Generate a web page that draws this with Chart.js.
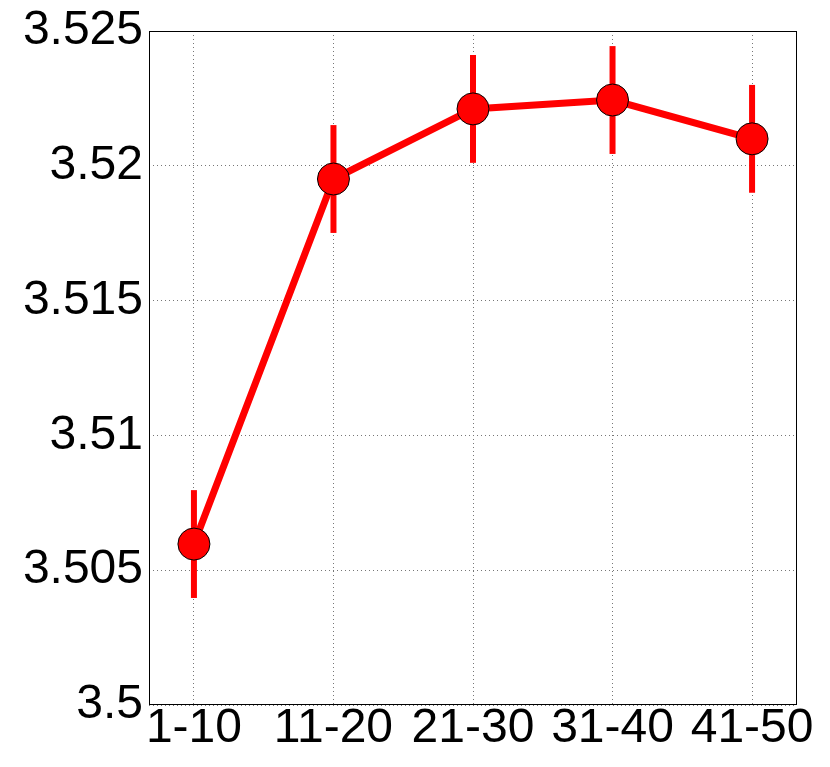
<!DOCTYPE html>
<html lang="en">
  <head>
    <meta charset="utf-8" />
    <title>Error bar line chart</title>
    <style>
      * {
        margin: 0;
        padding: 0;
      }
      body {
        background: white;
      }
      .chartBox {
        width: 830px;
        height: 767px;
      }
    </style>
  </head>
  <body>
    <div class="chartBox">
      <canvas id="myChart"></canvas>
    </div>

    <script src="https://cdn.jsdelivr.net/npm/chart.js"></script>

    <script>
      const categories = ["1-10", "11-20", "21-30", "31-40", "41-50"];
      const means = [3.50597, 3.51951, 3.52211, 3.52244, 3.5210];
      const errors = [0.002, 0.002, 0.002, 0.002, 0.002];
      const yTicks = [3.5, 3.505, 3.51, 3.515, 3.52, 3.525];

      // error bar plugin block
      const errorBars = {
        id: "errorBars",
        beforeDatasetsDraw(chart) {
          const {
            ctx,
            scales: { x, y },
          } = chart;
          ctx.save();
          ctx.strokeStyle = "#ff0000";
          ctx.lineWidth = 6;
          means.forEach((m, i) => {
            const px = x.getPixelForValue(i);
            ctx.beginPath();
            ctx.moveTo(px, y.getPixelForValue(m - errors[i]));
            ctx.lineTo(px, y.getPixelForValue(m + errors[i]));
            ctx.stroke();
          });
          ctx.restore();
        },
        afterDraw(chart) {
          // frame round the plot area
          const {
            ctx,
            chartArea: { top, bottom, left, right },
          } = chart;
          ctx.save();
          ctx.strokeStyle = "#000";
          ctx.lineWidth = 1;
          ctx.strokeRect(left + 0.5, top + 0.5, right - left - 1, bottom - top - 1);
          ctx.restore();
        },
      };

      const tickFont = { family: "Liberation Sans", size: 48, lineHeight: 1 };

      // config block
      const config = {
        type: "line",
        data: {
          datasets: [
            {
              data: means.map((v, i) => ({ x: i, y: v })),
              borderColor: "#ff0000",
              borderWidth: 7,
              pointRadius: 16,
              pointHoverRadius: 16,
              pointBackgroundColor: "#ff0000",
              pointBorderColor: "#000",
              pointBorderWidth: 1,
              tension: 0,
            },
          ],
        },
        options: {
          responsive: true,
          maintainAspectRatio: false,
          animation: false,
          layout: { padding: { top: 31, right: 33, left: 0, bottom: 0 } },
          plugins: {
            legend: { display: false },
            tooltip: { enabled: false },
          },
          scales: {
            x: {
              type: "linear",
              min: -0.322,
              max: 4.322,
              afterBuildTicks: (scale) => {
                scale.ticks = categories.map((c, i) => ({ value: i }));
              },
              afterFit: (scale) => {
                scale.height = 62;
              },
              border: { display: false, dash: [1, 3] },
              grid: {
                color: "#777",
                drawTicks: false,
              },
              ticks: {
                color: "#000",
                font: tickFont,
                padding: 0,
                maxRotation: 0,
                autoSkip: false,
                callback: (value) => categories[value],
              },
            },
            y: {
              min: 3.5,
              max: 3.525,
              afterBuildTicks: (scale) => {
                scale.ticks = yTicks.map((v) => ({ value: v }));
              },
              afterFit: (scale) => {
                scale.width = 149;
              },
              border: { display: false, dash: [1, 3] },
              grid: {
                color: "#777",
                drawTicks: false,
              },
              ticks: {
                color: "#000",
                font: tickFont,
                padding: 6,
                callback: (value) => String(parseFloat(value.toFixed(3))),
              },
            },
          },
        },
        plugins: [errorBars],
      };

      // init render block
      const myChart = new Chart(document.getElementById("myChart"), config);
    </script>
  </body>
</html>
